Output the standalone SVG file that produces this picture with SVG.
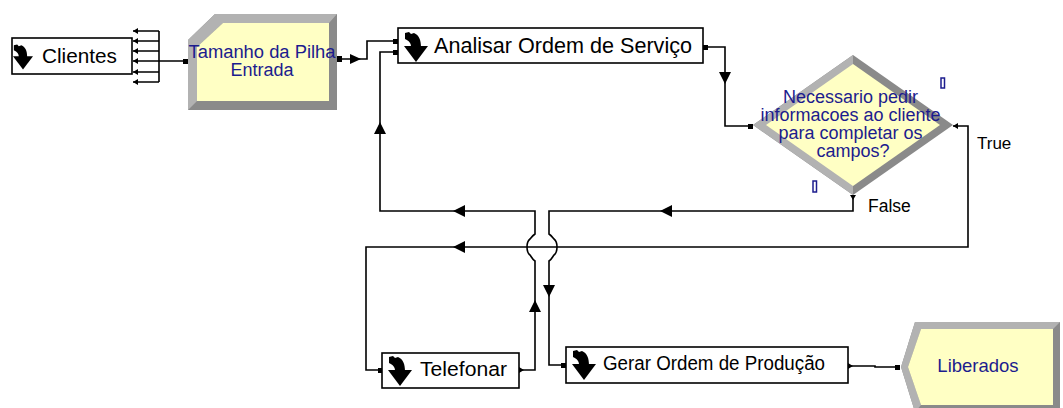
<svg xmlns="http://www.w3.org/2000/svg" width="1063" height="408" viewBox="0 0 1063 408">
  <style>
    .box { fill: #ffffff; stroke: #000000; stroke-width: 1.6; }
    .lbl { font-family: "Liberation Sans", Arial, sans-serif; fill: #000000; }
    .blue { font-family: "Liberation Sans", Arial, sans-serif; fill: #1c1c8e; }
    .wire { fill: none; stroke: #000000; stroke-width: 1.6; }
    .head { fill: #000000; stroke: none; }
    .light { fill: #b2b2b2; }
    .dark { fill: #8a8a8a; }
    .yellow { fill: #ffffc4; }
    .tag { fill: none; stroke: #1c1c8e; stroke-width: 1.5; }
  </style>
  <defs>
    <!-- process icon: curved down arrow -->
    <symbol id="down-icon" viewBox="0 0 24 30" overflow="visible">
      <path d="M1,1 L5,0 L7,2 L10,1 C15,3 17,8 17,15 L7,15 C7,11 5,9 1,7 Z" fill="#000"/>
      <path d="M0,14 L24,14 L12,30 Z" fill="#000"/>
    </symbol>
  </defs>

  <!-- connectors -->
  <g id="connectors">
    <!-- arrival fan from Clientes -->
    <path class="wire" d="M133,31 H159 M133,41 H159 M133,51 H159 M133,61 H159 M133,72 H159 M133,82 H159 M159,31 V82 M159,61 H185"/>
    <path class="head" d="M133,31 l5,-3 v6 Z M133,41 l5,-3 v6 Z M133,51 l5,-3 v6 Z M133,61 l5,-3 v6 Z M133,72 l5,-3 v6 Z M133,82 l5,-3 v6 Z"/>
    <rect class="head" x="183" y="59" width="5" height="5"/>

    <!-- Tamanho da Pilha to Analisar -->
    <path class="wire" d="M337,59 H367 V41 H398"/>
    <path class="head" d="M337,56 h5 v6 h-5 Z M350,54 L361,59 L350,64 Z M393,39 h5 v5 h-5 Z"/>

    <!-- Analisar to decision -->
    <path class="wire" d="M703,47 H725 V126 H753"/>
    <path class="head" d="M703,45 h5 v5 h-5 Z M719,72 L731,72 L725,84 Z M748,124 h5 v5 h-5 Z"/>

    <!-- Telefonar back to Analisar -->
    <path class="wire" d="M519,370 H535 V261 C532,259 531,256 530,255 C526,252 526,242 530,239 C531,238 532,236 535,234 V211 H380 V52 H398"/>
    <path class="head" d="M519,367 l5,3 l-5,3 Z M529,312 L541,312 L535,300 Z M465,205 L453,211 L465,217 Z M374,134 L386,134 L380,122 Z M393,50 h5 v5 h-5 Z"/>

    <!-- False branch to Gerar Ordem de Producao -->
    <path class="wire" d="M853,195 V211 H549 V234 C552,236 553,238 554,239 C558,242 558,252 554,255 C553,256 552,259 549,261 V365 H566"/>
    <path class="head" d="M850,195 l3,5 l3,-5 Z M672,205 L660,211 L672,217 Z M543,285 L555,285 L549,297 Z M561,363 h5 v5 h-5 Z"/>

    <!-- True branch to Telefonar -->
    <path class="wire" d="M953,126 H968 V247 H366 V370 H382"/>
    <path class="head" d="M953,126 l5,-3 v6 Z M465,241 L453,247 L465,253 Z M378,368 h5 v5 h-5 Z"/>

    <!-- Gerar to Liberados -->
    <path class="wire" d="M848,366 H875 V367 H899"/>
    <path class="head" d="M848,363 l5,3 l-5,3 Z M895,365 h5 v5 h-5 Z"/>
  </g>

  <!-- Create module -->
  <g id="clientes">
    <rect class="box" x="12" y="38" width="120" height="36"/>
    <use href="#down-icon" x="13" y="42" width="20" height="30"/>
    <text class="lbl" x="42" y="63" font-size="21" textLength="75" lengthAdjust="spacingAndGlyphs">Clientes</text>
  </g>

  <!-- Assign module -->
  <g id="tamanho-pilha">
    <polygon class="dark" points="215,14 337,14 337,110 188,110 188,40"/>
    <polygon class="light" points="215,14 337,14 329,23 223,23 197,47 197,101 188,110 188,40"/>
    <polygon class="yellow" points="223,23 329,23 329,101 197,101 197,47"/>
    <text class="blue" x="262" y="58" font-size="18" text-anchor="middle" textLength="147" lengthAdjust="spacingAndGlyphs">Tamanho da Pilha</text>
    <text class="blue" x="262" y="76" font-size="18" text-anchor="middle">Entrada</text>
  </g>

  <!-- Process modules -->
  <g id="analisar">
    <rect class="box" x="398" y="28" width="305" height="35"/>
    <use href="#down-icon" x="404" y="32" width="24" height="30"/>
    <text class="lbl" x="434" y="53" font-size="21.5" textLength="258" lengthAdjust="spacingAndGlyphs">Analisar Ordem de Serviço</text>
  </g>

  <g id="telefonar">
    <rect class="box" x="382" y="353" width="137" height="35"/>
    <use href="#down-icon" x="388" y="356" width="24" height="30"/>
    <text class="lbl" x="420" y="376" font-size="20.5" textLength="87" lengthAdjust="spacingAndGlyphs">Telefonar</text>
  </g>

  <g id="gerar">
    <rect class="box" x="566" y="347" width="282" height="36"/>
    <use href="#down-icon" x="572" y="350" width="24" height="30"/>
    <text class="lbl" x="603" y="370" font-size="20" textLength="222" lengthAdjust="spacingAndGlyphs">Gerar Ordem de Produção</text>
  </g>

  <!-- Decide module -->
  <g id="decisao">
    <polygon class="dark" points="853,55 953,125 853,195 753,125"/>
    <polygon class="light" points="853,55 853,195 753,125"/>
    <polygon class="yellow" points="853,64 940,125 853,186 766,125"/>
    <text class="blue" font-size="18" text-anchor="middle">
      <tspan x="853" y="103">Necessario pedir</tspan>
      <tspan x="853" y="121">informacoes ao cliente</tspan>
      <tspan x="853" y="139">para completar os</tspan>
      <tspan x="853" y="157">campos?</tspan>
    </text>
    <rect class="tag" x="941" y="78" width="3.5" height="10"/>
    <rect class="tag" x="813" y="181" width="3.5" height="11"/>
    <text class="lbl" x="977" y="149" font-size="17">True</text>
    <text class="lbl" x="868" y="212" font-size="17.5">False</text>
  </g>

  <!-- Dispose module -->
  <g id="liberados">
    <polygon class="dark" points="915,322 1060,322 1060,412 915,412 901,367"/>
    <polygon class="light" points="915,322 1060,322 1053,329 921,329 908,367 921,405 915,412 901,367"/>
    <polygon class="yellow" points="921,329 1053,329 1053,405 921,405 908,367"/>
    <text class="blue" x="978" y="372" font-size="18.5" text-anchor="middle">Liberados</text>
  </g>
</svg>
